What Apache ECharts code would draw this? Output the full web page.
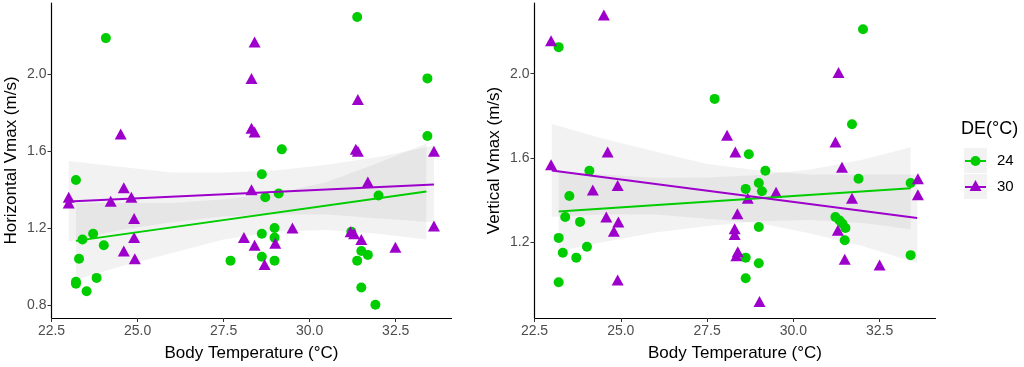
<!DOCTYPE html>
<html>
<head>
<meta charset="utf-8">
<script src="https://cdn.jsdelivr.net/npm/echarts@6/dist/echarts.min.js"></script>
<style>
  html, body { margin: 0; padding: 0; background: #fff; }
  #main { width: 1024px; height: 367px; }
</style>
</head>
<body>
<div id="main"></div>
<script>
// tick labels
const xTicks = [22.5, 25.0, 27.5, 30.0, 32.5];
const hTicks = [0.8, 1.2, 1.6, 2.0];
const vTicks = [1.2, 1.6, 2.0];

// Horizontal Vmax, DE 24 / 30  [body temp, Vmax]
const h24 = [[31.38,2.30],[24.08,2.19],[33.42,1.98],[29.19,1.61],[33.42,1.68],[28.61,1.48],[23.21,1.45],[28.71,1.36],[29.10,1.38],[32.00,1.37],
  [23.71,1.17],[23.40,1.14],[24.02,1.11],[23.30,1.04],[23.21,0.92],[23.21,0.91],[23.81,0.94],[23.52,0.87],[27.70,1.03],[28.61,1.17],
  [28.61,1.05],[28.98,1.20],[28.98,1.15],[28.98,1.03],[31.21,1.18],[31.50,1.08],[31.69,1.06],[31.38,1.03],[31.50,0.89],[31.91,0.80]];
const h30 = [[28.40,2.17],[28.31,1.98],[31.40,1.87],[24.51,1.69],[28.31,1.72],[28.40,1.70],[31.34,1.61],[31.40,1.60],[33.61,1.60],[31.69,1.44],
  [24.60,1.41],[23.00,1.36],[23.00,1.33],[24.22,1.34],[24.82,1.36],[28.31,1.40],[24.90,1.25],[24.90,1.15],[24.60,1.08],[24.92,1.04],
  [28.09,1.15],[28.40,1.11],[28.69,1.01],[29.00,1.12],[29.50,1.20],[31.19,1.18],[31.29,1.17],[31.50,1.14],[32.49,1.10],[33.61,1.21]];

// Vertical Vmax, DE 24 / 30
const v24 = [[23.20,2.126],[32.02,2.211],[27.72,1.88],[31.70,1.759],[28.71,1.617],[29.19,1.538],[24.09,1.538],[31.89,1.50],[33.40,1.48],[23.51,1.418],
  [28.62,1.452],[29.00,1.48],[29.09,1.441],[23.39,1.318],[23.82,1.295],[29.00,1.271],[31.22,1.318],[31.34,1.302],[31.42,1.287],[31.51,1.266],
  [31.49,1.208],[23.20,1.219],[23.32,1.148],[23.71,1.125],[24.02,1.177],[28.62,1.125],[29.00,1.098],[33.40,1.137],[23.20,1.008],[28.62,1.027]];
const v30 = [[22.98,2.157],[24.51,2.279],[31.31,2.006],[28.08,1.707],[31.22,1.675],[28.32,1.628],[24.62,1.628],[31.41,1.555],[22.98,1.567],[33.61,1.50],
  [33.61,1.424],[24.19,1.447],[24.91,1.468],[28.68,1.408],[29.50,1.436],[31.70,1.408],[24.58,1.318],[24.93,1.295],[24.80,1.25],[28.38,1.334],
  [28.30,1.263],[28.30,1.235],[31.29,1.255],[28.39,1.153],[28.35,1.134],[31.49,1.117],[32.50,1.09],[24.91,1.019],[29.02,0.917]];

// fitted lines (end points)
const h24Fit = [[23.21,1.133],[33.39,1.39]];
const h30Fit = [[23.00,1.338],[33.61,1.427]];
const v24Fit = [[23.20,1.345],[33.40,1.455]];
const v30Fit = [[23.00,1.539],[33.59,1.314]];

// confidence bands
const h24BandX = [23.21, 24.5, 26.0, 27.5, 29.0, 30.5, 32.0, 33.39];
const h24Lo = [0.93, 1.00, 1.07, 1.14, 1.18, 1.19, 1.17, 1.14];
const h24Hi = [1.33, 1.33, 1.33, 1.35, 1.38, 1.44, 1.54, 1.64];
const h30BandX = [23.0, 24.5, 26.0, 27.5, 29.0, 30.5, 32.0, 33.61];
const h30Lo = [1.13, 1.19, 1.23, 1.26, 1.27, 1.27, 1.25, 1.23];
const h30Hi = [1.55, 1.52, 1.49, 1.49, 1.50, 1.53, 1.57, 1.63];
const v24BandX = [23.2, 24.5, 26.0, 27.5, 29.0, 30.5, 32.0, 33.4];
const v24Lo = [1.155, 1.20, 1.245, 1.276, 1.298, 1.304, 1.29, 1.26];
const v24Hi = [1.535, 1.52, 1.505, 1.506, 1.518, 1.544, 1.59, 1.65];
const v30BandX = [23.0, 24.5, 26.0, 27.5, 29.0, 30.5, 32.0, 33.59];
const v30Lo = [1.32, 1.33, 1.33, 1.31, 1.29, 1.24, 1.18, 1.10];
const v30Hi = [1.76, 1.69, 1.63, 1.57, 1.54, 1.52, 1.52, 1.52];

const GREEN = '#00CD00';
const PURPLE = '#9E00CC';
const FONT = '"Liberation Sans", Arial, sans-serif';

const chart = echarts.init(document.getElementById('main'));

function xAxis(gi) {
  return {
    type: 'value', gridIndex: gi, min: 22.5, max: 34.12,
    name: 'Body Temperature (°C)', nameLocation: 'middle', nameGap: 27,
    nameTextStyle: {color: '#000', fontSize: 17, fontFamily: FONT},
    axisLine: {show: true, onZero: false, lineStyle: {color: '#000', width: 1.2}},
    axisTick: {show: true, length: 4, lineStyle: {color: '#333'}, customValues: xTicks},
    axisLabel: {color: '#4D4D4D', fontSize: 14, fontFamily: FONT, margin: 6,
      customValues: xTicks, formatter: v => v.toFixed(1)},
    splitLine: {show: false}
  };
}

function yAxis(gi, name, lo, hi, ticks) {
  return {
    type: 'value', gridIndex: gi, min: lo, max: hi,
    name: name, nameLocation: 'middle', nameGap: 32,
    nameTextStyle: {color: '#000', fontSize: 17, fontFamily: FONT},
    axisLine: {show: true, onZero: false, lineStyle: {color: '#000', width: 1.2}},
    axisTick: {show: true, length: 4, lineStyle: {color: '#333'}, customValues: ticks},
    axisLabel: {color: '#4D4D4D', fontSize: 14, fontFamily: FONT, margin: 5,
      customValues: ticks, formatter: v => v.toFixed(1)},
    splitLine: {show: false}
  };
}

function points(gi, data, color, symbol, size) {
  return {type: 'scatter', xAxisIndex: gi, yAxisIndex: gi, data: data,
    symbol: symbol, symbolSize: size, itemStyle: {color: color, opacity: 1}, z: 3, silent: true};
}

function fit(gi, data, color) {
  return {type: 'line', xAxisIndex: gi, yAxisIndex: gi, data: data, showSymbol: false,
    lineStyle: {color: color, width: 2}, z: 4, silent: true};
}

function band(gi, bx, lo, hi) {
  return {
    type: 'custom', xAxisIndex: gi, yAxisIndex: gi, z: 2, silent: true,
    data: bx.map((x, i) => [x, lo[i], hi[i]]),
    encode: {x: 0, y: [1, 2]},
    renderItem(params, api) {
      if (params.dataIndex !== 0) return null;
      const pts = [];
      for (let i = 0; i < bx.length; i++) pts.push(api.coord([bx[i], hi[i]]));
      for (let i = bx.length - 1; i >= 0; i--) pts.push(api.coord([bx[i], lo[i]]));
      return {type: 'polygon', shape: {points: pts}, style: {fill: 'rgba(150,150,150,0.12)'}};
    }
  };
}

chart.setOption({
  animation: false,
  grid: [
    {left: 51.5, top: 3, width: 400, bottom: 47},
    {left: 534.5, top: 3, width: 401, bottom: 47}
  ],
  xAxis: [xAxis(0), xAxis(1)],
  yAxis: [
    yAxis(0, 'Horizontal Vmax (m/s)', 0.731, 2.373, hTicks),
    yAxis(1, 'Vertical Vmax (m/s)', 0.838, 2.336, vTicks)
  ],
  series: [
    band(0, h24BandX, h24Lo, h24Hi),
    band(0, h30BandX, h30Lo, h30Hi),
    points(0, h24, GREEN, 'circle', 10),
    points(0, h30, PURPLE, 'triangle', [12, 11]),
    fit(0, h24Fit, GREEN),
    fit(0, h30Fit, PURPLE),
    band(1, v24BandX, v24Lo, v24Hi),
    band(1, v30BandX, v30Lo, v30Hi),
    points(1, v24, GREEN, 'circle', 10),
    points(1, v30, PURPLE, 'triangle', [12, 11]),
    fit(1, v24Fit, GREEN),
    fit(1, v30Fit, PURPLE)
  ],
  graphic: [
    {type: 'text', left: 961, top: 120, style: {text: 'DE(°C)', fontSize: 18, fontFamily: FONT, fill: '#000'}},
    {type: 'rect', shape: {x: 964, y: 148, width: 23, height: 25}, style: {fill: '#F2F2F2'}},
    {type: 'rect', shape: {x: 964, y: 174, width: 23, height: 25}, style: {fill: '#F2F2F2'}},
    {type: 'line', shape: {x1: 965, y1: 161, x2: 986, y2: 161}, style: {stroke: GREEN, lineWidth: 2}},
    {type: 'circle', shape: {cx: 975.5, cy: 161, r: 5}, style: {fill: GREEN}},
    {type: 'line', shape: {x1: 965, y1: 187, x2: 986, y2: 187}, style: {stroke: PURPLE, lineWidth: 2}},
    {type: 'polygon', shape: {points: [[975.5, 180], [981.5, 191], [969.5, 191]]}, style: {fill: PURPLE}},
    {type: 'text', left: 997, top: 153, style: {text: '24', fontSize: 15, fontFamily: FONT, fill: '#000'}},
    {type: 'text', left: 997, top: 179, style: {text: '30', fontSize: 15, fontFamily: FONT, fill: '#000'}}
  ]
});
</script>
</body>
</html>
